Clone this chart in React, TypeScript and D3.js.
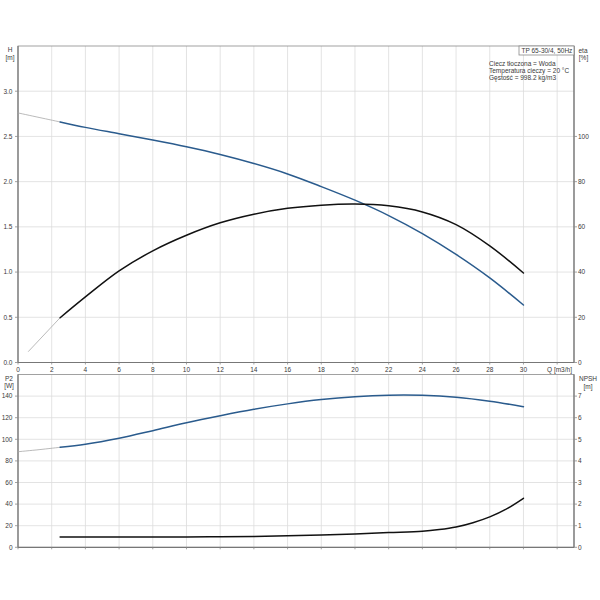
import React, { useRef, useEffect } from 'react'
import * as d3 from 'd3'

// flow rate points, m3/h
const qMain = [2.5, 4, 6, 8, 10, 12, 14, 16, 18, 20, 22, 24, 26, 28, 30]
// head H [m]
const headValues = [2.66, 2.6, 2.53, 2.46, 2.385, 2.3, 2.2, 2.085, 1.945, 1.795, 1.625, 1.425, 1.195, 0.935, 0.636]
// efficiency eta [%]
const etaValues = [19.8, 29, 40.5, 49.4, 56.3, 61.8, 65.6, 68.2, 69.6, 70.1, 69.3, 66.6, 61.0, 51.6, 39.6]
// shaft power P2 [W]
const p2Values = [92.6, 95.4, 101.0, 108.0, 115.3, 121.8, 127.8, 132.8, 136.8, 139.5, 140.9, 140.8, 139.0, 135.3, 130.2]
// NPSH [m]
const qNpsh = [2.5, 6, 10, 12, 14, 16, 18, 20, 22, 24, 25, 26, 27, 28, 29, 30]
const npshValues = [0.48, 0.48, 0.48, 0.49, 0.5, 0.53, 0.57, 0.62, 0.68, 0.74, 0.82, 0.94, 1.14, 1.41, 1.78, 2.27]

// thin grey extrapolated parts
const headExtQ = [0, 1.25, 2.5]
const headExt = [2.76, 2.71, 2.66]
const etaExtQ = [0.62, 2.5]
const etaExt = [4.9, 19.8]
const p2ExtQ = [0, 1.25, 2.5]
const p2Ext = [88.5, 90.4, 92.6]

const qTicks = d3.range(0, 31, 2)
const qGrid = d3.range(2, 33, 2)
const headTicks = [0, 0.5, 1, 1.5, 2, 2.5, 3]
const etaTicks = [0, 20, 40, 60, 80, 100]
const p2Ticks = [0, 20, 40, 60, 80, 100, 120, 140]
const npshTicks = [0, 1, 2, 3, 4, 5, 6, 7]

const legendLines = ['Ciecz tłoczona = Woda', 'Temperatura cieczy = 20 °C', 'Gęstość = 998.2 kg/m3']

const FONT = '"Liberation Sans", Arial, sans-serif'
const BLUE = '#2a5b8d'
const GRID = '#dcdcdc'
const AXIS = '#8a8a8a'
const TEXT = '#3a3a3a'

const App: React.FC = () => {
  const svgRef = useRef<SVGSVGElement>(null)

  useEffect(() => {
    if (!svgRef.current) return
    const svg = d3.select(svgRef.current)
    svg.selectAll('*').remove()

    const left = 18
    const right = 574
    const top1 = 46
    const bottom1 = 362.5
    const top2 = 374.5
    const bottom2 = 547.3

    const x = d3.scaleLinear().domain([0, 33]).range([left, right])
    const yH = d3.scaleLinear().domain([0, 3.5]).range([bottom1, top1])
    const yEta = d3.scaleLinear().domain([0, 140]).range([bottom1, top1])
    const yP2 = d3.scaleLinear().domain([0, 160]).range([bottom2, top2])
    const yNpsh = d3.scaleLinear().domain([0, 8]).range([bottom2, top2])

    const txt = (sel: any, px: number, py: number, s: string, anchor = 'middle') =>
      sel.append('text')
        .attr('x', px)
        .attr('y', py)
        .attr('text-anchor', anchor)
        .style('font-family', FONT)
        .style('font-size', '6.5px')
        .attr('fill', TEXT)
        .text(s)

    const panel = (top: number, bottom: number, yl: any, lTicks: number[], lFmt: (v: number) => string,
      yr: any, rTicks: number[]) => {
      const g = svg.append('g')
      // grid
      qGrid.forEach(q => {
        g.append('line').attr('x1', x(q)).attr('x2', x(q)).attr('y1', top).attr('y2', bottom)
          .attr('stroke', GRID).attr('stroke-width', 0.8)
      })
      lTicks.filter(v => v > 0).forEach(v => {
        g.append('line').attr('x1', left).attr('x2', right).attr('y1', yl(v)).attr('y2', yl(v))
          .attr('stroke', GRID).attr('stroke-width', 0.8)
      })
      // frame
      g.append('rect').attr('x', left).attr('y', top).attr('width', right - left).attr('height', bottom - top)
        .attr('fill', 'none').attr('stroke', AXIS).attr('stroke-width', 0.8)
      g.append('line').attr('x1', left).attr('x2', left).attr('y1', top).attr('y2', bottom)
        .attr('stroke', '#777').attr('stroke-width', 1.2)
      g.append('line').attr('x1', right).attr('x2', right).attr('y1', top).attr('y2', bottom)
        .attr('stroke', '#777').attr('stroke-width', 1.2)
      g.append('line').attr('x1', left).attr('x2', right).attr('y1', bottom).attr('y2', bottom)
        .attr('stroke', '#777').attr('stroke-width', 1.2)
      // left ticks
      lTicks.forEach(v => {
        g.append('line').attr('x1', left - 3).attr('x2', left).attr('y1', yl(v)).attr('y2', yl(v))
          .attr('stroke', AXIS).attr('stroke-width', 0.8)
        txt(g, 12.5, yl(v) + 2.3, lFmt(v), 'end')
      })
      // right ticks
      rTicks.forEach(v => {
        g.append('line').attr('x1', right).attr('x2', right + 3).attr('y1', yr(v)).attr('y2', yr(v))
          .attr('stroke', AXIS).attr('stroke-width', 0.8)
        txt(g, 578, yr(v) + 2.3, String(v), 'start')
      })
      // bottom ticks
      qGrid.concat([0]).forEach(q => {
        g.append('line').attr('x1', x(q)).attr('x2', x(q)).attr('y1', bottom).attr('y2', bottom + 2)
          .attr('stroke', AXIS).attr('stroke-width', 0.8)
      })
      return g
    }

    const g1 = panel(top1, bottom1, yH, headTicks, v => v.toFixed(1), yEta, etaTicks)
    const g2 = panel(top2, bottom2, yP2, p2Ticks, v => String(v), yNpsh, npshTicks)

    // x labels under the upper panel
    qTicks.forEach(q => txt(g1, x(q), 371.6, String(q)))
    txt(g1, 559.5, 371.6, 'Q [m3/h]')

    // axis titles
    txt(g1, 10, 51.6, 'H')
    txt(g1, 10, 59.6, '[m]')
    txt(g1, 583, 53, 'eta')
    txt(g1, 583.5, 60, '[%]')
    txt(g2, 9, 380.6, 'P2')
    txt(g2, 9, 388.3, '[W]')
    txt(g2, 588, 380.6, 'NPSH')
    txt(g2, 588, 389, '[m]')

    // legend
    g1.append('rect').attr('x', 519).attr('y', 46).attr('width', 55).attr('height', 9)
      .attr('fill', '#fff').attr('stroke', AXIS).attr('stroke-width', 0.8)
    txt(g1, 521.5, 53, 'TP 65-30/4, 50Hz', 'start')
    legendLines.forEach((s, i) => txt(g1, 489, 65.5 + i * 7.2, s, 'start'))

    const curve = (g: any, qs: number[], vs: number[], ys: any, color: string, w: number) => {
      const line = d3.line<number>()
        .x((_, i) => x(qs[i]))
        .y(v => ys(v))
        .curve(d3.curveCatmullRom.alpha(0.5))
      g.append('path').datum(vs).attr('d', line).attr('fill', 'none')
        .attr('stroke', color).attr('stroke-width', w).attr('stroke-linecap', 'round')
    }

    curve(g1, headExtQ, headExt, yH, '#a8a8a8', 0.8)
    curve(g1, etaExtQ, etaExt, yEta, '#a8a8a8', 0.8)
    curve(g1, qMain, headValues, yH, BLUE, 1.5)
    curve(g1, qMain, etaValues, yEta, '#111', 1.5)

    curve(g2, p2ExtQ, p2Ext, yP2, '#a8a8a8', 0.8)
    curve(g2, qMain, p2Values, yP2, BLUE, 1.5)
    curve(g2, qNpsh, npshValues, yNpsh, '#111', 1.5)
  }, [])

  return (
    <svg ref={svgRef} width={600} height={600}
      style={{ position: 'absolute', left: 0, top: 0, background: '#fff' }} />
  )
}

export default App
